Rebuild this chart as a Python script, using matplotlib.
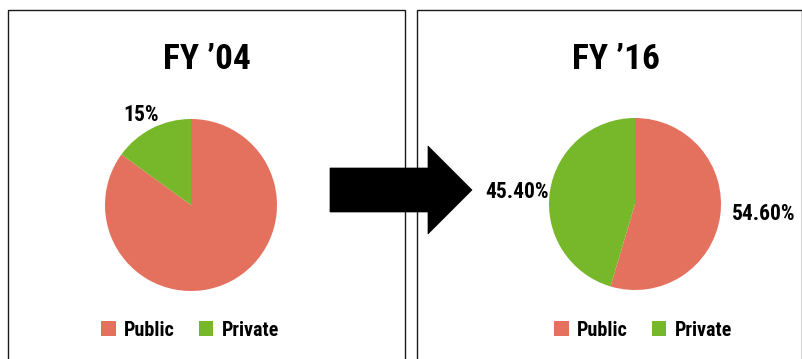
import matplotlib
matplotlib.use("Agg")
import matplotlib.pyplot as plt
from matplotlib.patches import Rectangle, Polygon, Patch

categories = ["Public", "Private"]
fy04_values = [85.0, 15.0]
fy16_values = [54.60, 45.40]
titles = ["FY \u201904", "FY \u201916"]
fy04_labels = ["", "15%"]
fy16_labels = ["54.60%", "45.40%"]

colors = ["#E4705E", "#77B72A"]

plt.rcParams["font.family"] = ["Roboto Condensed", "DejaVu Sans"]

W, H = 803, 359
fig = plt.figure(figsize=(W / 100, H / 100), dpi=100)
bg = fig.add_axes([0, 0, 1, 1])
bg.set_xlim(0, W)
bg.set_ylim(H, 0)
bg.axis("off")

# panel borders
for x0, x1 in [(8, 405), (417, 802)]:
    bg.add_patch(Rectangle((x0, 10), x1 - x0, 400, fill=False, ec="#1a1a1a", lw=1.0, zorder=1))

# arrow
arrow = [(330, 168), (428, 168), (428, 146), (472, 190), (428, 234), (428, 212), (330, 212)]
bg.add_patch(Polygon(arrow, closed=True, fc="black", ec="black", lw=0.5, zorder=5))

def pie_panel(cx, cy, r, values, labels, label_pos, title, title_x, legend_cx):
    ax = fig.add_axes([(cx - r) / W, (H - cy - r) / H, 2 * r / W, 2 * r / H])
    ax.pie(values, colors=colors, startangle=90, counterclock=False, radius=1,
           wedgeprops=dict(linewidth=0))
    ax.set_xlim(-1, 1)
    ax.set_ylim(-1, 1)
    ax.set_aspect("equal")
    ax.axis("off")
    for lab, (dx, dy) in zip(labels, label_pos):
        if lab:
            ax.text(dx, dy, lab, ha="center", va="baseline", fontsize=15.5,
                    fontweight="bold", color="black", clip_on=False)
    fig.text(title_x / W, 1 - 69 / H, title, ha="center", va="baseline",
             fontsize=25.5, fontweight="bold", color="black")
    handles = [Patch(facecolor=c, edgecolor="none") for c in colors]
    fig.legend(handles, categories, loc="center", bbox_to_anchor=(legend_cx / W, 1 - 330 / H),
               ncol=2, frameon=False, prop=dict(size=14.5, weight="bold"),
               handlelength=0.72, handleheight=0.8, handletextpad=0.4, columnspacing=1.2)

pie_panel(191, 205, 86, fy04_values, fy04_labels,
          [(0, 0), (-0.58, 0.977)], titles[0], 207, 190)
pie_panel(635, 204, 86, fy16_values, fy16_labels,
          [(1.50, -0.186), (-1.372, 0.07)], titles[1], 616, 643)

fig.savefig("out.png", dpi=100)
